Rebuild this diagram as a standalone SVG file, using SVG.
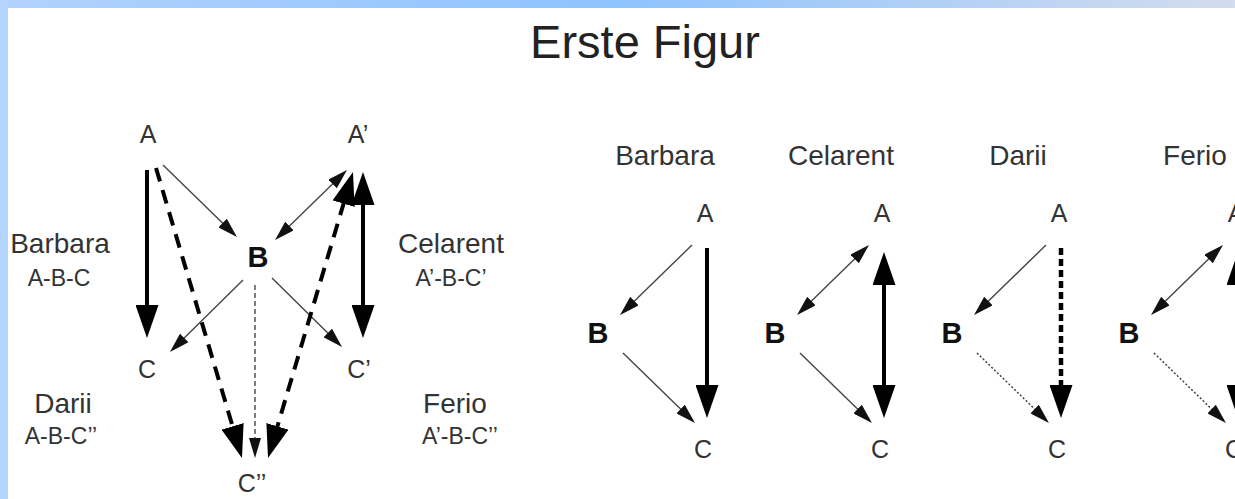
<svg xmlns="http://www.w3.org/2000/svg" width="1235" height="499" viewBox="0 0 1235 499">
<defs>
<linearGradient id="topg" x1="0" y1="0" x2="1" y2="0">
<stop offset="0" stop-color="#b2d2fd"/>
<stop offset="0.5" stop-color="#8dc3fe"/>
<stop offset="1" stop-color="#d3dcee"/>
</linearGradient>
<marker id="hk" markerUnits="userSpaceOnUse" markerWidth="33" markerHeight="23" viewBox="0 0 33 23" refX="25" refY="11.5" orient="auto-start-reverse"><path d="M0,0 L33,11.5 L0,23 z" fill="#000"/></marker>
<marker id="hn" markerUnits="userSpaceOnUse" markerWidth="20" markerHeight="12" viewBox="0 0 20 12" refX="16" refY="6" orient="auto-start-reverse"><path d="M0,0 L20,6 L0,12 z" fill="#111"/></marker>
<style>
text{font-family:"Liberation Sans",Arial,sans-serif;fill:#333;text-anchor:middle}
.title{font-size:47px;fill:#222}
.node{font-size:25px}
.b{font-size:29px;font-weight:bold;fill:#111}
.name{font-size:28px}
.sub{font-size:23px}
.thick{stroke:#000;stroke-width:4;fill:none}
.tdash{stroke:#000;stroke-width:4;fill:none;stroke-dasharray:14 9}
.sdash{stroke:#000;stroke-width:4.5;fill:none;stroke-dasharray:7 4}
.thin{stroke:#444;stroke-width:1.4;fill:none}
.thdash{stroke:#555;stroke-width:1.5;fill:none;stroke-dasharray:5 3}
.dot{stroke:#444;stroke-width:1.5;fill:none;stroke-dasharray:2 2}
.he{marker-end:url(#hk)}
.hb{marker-start:url(#hk);marker-end:url(#hk)}
.ne{marker-end:url(#hn)}
.nb{marker-start:url(#hn);marker-end:url(#hn)}
</style>
</defs>
<rect width="1235" height="499" fill="#fff"/>
<rect x="0" y="0" width="1235" height="8" fill="url(#topg)"/>
<rect x="0" y="0" width="8" height="499" fill="#b3d4fd"/>
<g id="title"><text class="title" x="645" y="58">Erste Figur</text></g>

<g id="connectors">
<!-- left diagram -->
<line class="thick he" x1="147" y1="170" x2="147" y2="330"/>
<line class="tdash he" x1="156" y1="168" x2="239.7" y2="450.3"/>
<line class="thin ne" x1="163" y1="165" x2="234.1" y2="234.2"/>
<line class="thin ne" x1="243" y1="280" x2="172.8" y2="349.2"/>
<line class="thdash ne" x1="255" y1="285" x2="255" y2="454"/>
<line class="thin ne" x1="272" y1="278" x2="339.2" y2="344.2"/>
<line class="thin nb" x1="344.1" y1="172.8" x2="277.9" y2="237.2"/>
<line class="thick hb" x1="363" y1="180" x2="363" y2="330"/>
<line class="tdash hb" x1="350.7" y1="179.7" x2="270.3" y2="450.3"/>
<!-- Barbara -->
<line class="thin ne" x1="692" y1="245" x2="622.9" y2="312.2"/>
<line class="thin ne" x1="623" y1="353" x2="692.1" y2="420.2"/>
<line class="thick he" x1="707" y1="248" x2="707" y2="410"/>
<!-- Celarent -->
<line class="thin nb" x1="866.1" y1="247.8" x2="799.9" y2="312.2"/>
<line class="thin ne" x1="800" y1="353" x2="869.1" y2="420.2"/>
<line class="thick hb" x1="884" y1="260" x2="884" y2="410"/>
<!-- Darii -->
<line class="thin ne" x1="1046" y1="245" x2="976.9" y2="312.2"/>
<line class="dot ne" x1="977" y1="353" x2="1046.1" y2="420.2"/>
<line class="sdash he" x1="1061" y1="248" x2="1061" y2="410"/>
<!-- Ferio -->
<line class="thin nb" x1="1220.1" y1="247.8" x2="1153.9" y2="312.2"/>
<line class="dot ne" x1="1154" y1="353" x2="1223.1" y2="420.2"/>
<line class="sdash hb" x1="1238" y1="260" x2="1238" y2="410"/>
</g>

<g id="left-A"><text class="node" x="148" y="143">A</text></g>
<g id="left-A1"><text class="node" x="358" y="143">A’</text></g>
<g id="left-B"><text class="b" x="258" y="267">B</text></g>
<g id="left-C"><text class="node" x="147" y="378">C</text></g>
<g id="left-C1"><text class="node" x="359" y="378">C’</text></g>
<g id="left-C2"><text class="node" x="252" y="492">C’’</text></g>
<g id="lbl-barbara"><text class="name" x="60" y="253">Barbara</text><text class="sub" x="59" y="286">A-B-C</text></g>
<g id="lbl-celarent"><text class="name" x="451" y="253">Celarent</text><text class="sub" x="451" y="286">A’-B-C’</text></g>
<g id="lbl-darii"><text class="name" x="63" y="413">Darii</text><text class="sub" x="61" y="444">A-B-C’’</text></g>
<g id="lbl-ferio"><text class="name" x="455" y="413">Ferio</text><text class="sub" x="460" y="444">A’-B-C’’</text></g>

<g id="p-barbara"><text class="name" x="665" y="165">Barbara</text><text class="node" x="705" y="222">A</text><text class="b" x="598" y="343">B</text><text class="node" x="703" y="458">C</text></g>
<g id="p-celarent"><text class="name" x="841" y="165">Celarent</text><text class="node" x="882" y="222">A</text><text class="b" x="775" y="343">B</text><text class="node" x="880" y="458">C</text></g>
<g id="p-darii"><text class="name" x="1018" y="165">Darii</text><text class="node" x="1059" y="222">A</text><text class="b" x="952" y="343">B</text><text class="node" x="1057" y="458">C</text></g>
<g id="p-ferio"><text class="name" x="1195" y="165">Ferio</text><text class="node" x="1236" y="222">A</text><text class="b" x="1129" y="343">B</text><text class="node" x="1234" y="458">C</text></g>
</svg>
